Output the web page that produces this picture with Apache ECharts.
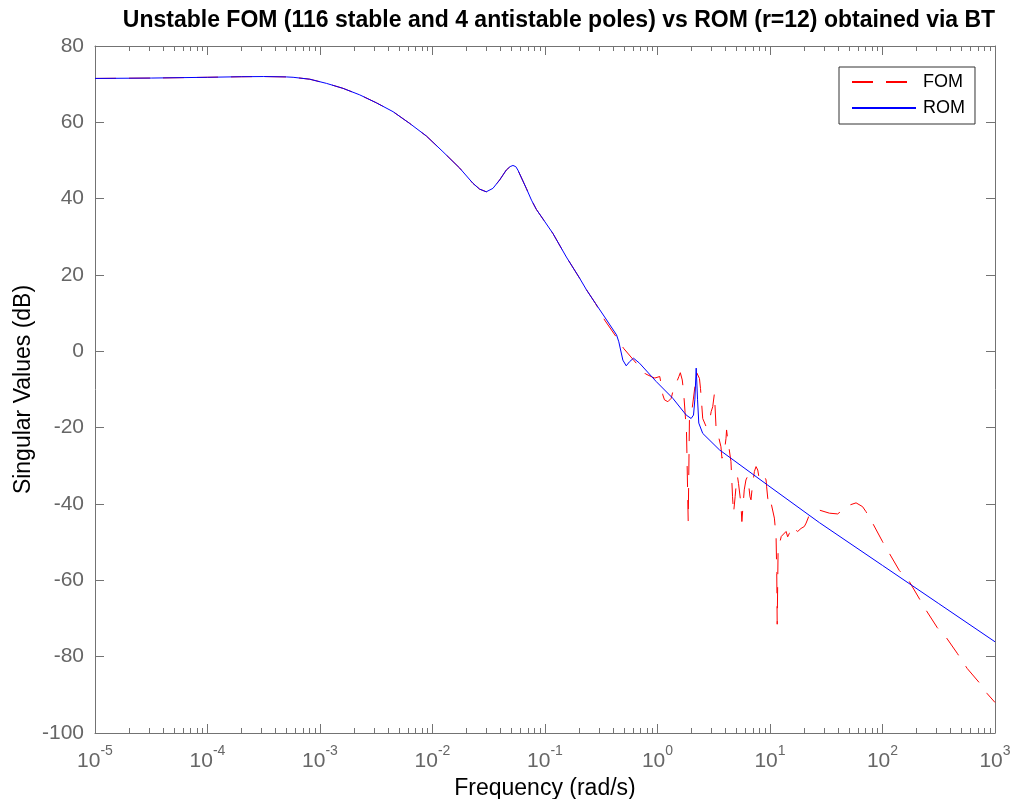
<!DOCTYPE html>
<html>
<head>
<meta charset="utf-8">
<script src="https://cdn.jsdelivr.net/npm/echarts@6/dist/echarts.min.js"></script>
<style>
html,body{margin:0;padding:0;background:#fff;}
#chart{width:1015px;height:799px;}
</style>
</head>
<body>
<div id="chart"></div>
<script>
// ---- data (frequency given as log10 of rad/s, values in dB) ----
const titleText = 'Unstable FOM (116 stable and 4 antistable poles) vs ROM (r=12) obtained via BT';
const xName = 'Frequency (rad/s)';
const yName = 'Singular Values (dB)';
const seriesNames = ['FOM', 'ROM'];
const yTicks = [-100, -80, -60, -40, -20, 0, 20, 40, 60, 80];
const xDecades = [-5, -4, -3, -2, -1, 0, 1, 2, 3];

// part common to both models
const sharedLogW = [-5, -4.5, -4, -3.7, -3.5, -3.3, -3.239, -3.091, -2.942, -2.795, -2.647, -2.498, -2.351, -2.202, -2.054, -1.907, -1.758, -1.64, -1.581, -1.522, -1.463, -1.403, -1.344, -1.31, -1.285, -1.26, -1.241, -1.166, -1.12, -1.077, -1.0, -0.93, -0.81, -0.693, -0.631, -0.55];
const sharedDb = [71.5, 71.6, 71.8, 71.95, 72.0, 71.9, 71.8, 71.3, 70.2, 68.9, 67.2, 65.1, 62.8, 59.7, 56.4, 52.3, 48.0, 44.0, 42.5, 41.8, 42.7, 44.9, 47.5, 48.4, 48.7, 48.4, 47.5, 42.7, 39.6, 37.2, 33.9, 30.9, 24.7, 19.2, 16.1, 12.5];

// ROM continuation
const romLogW = [-0.47, -0.364, -0.344, -0.308, -0.278, -0.248, -0.213, -0.16, -0.012, 0.136, 0.255, 0.299, 0.32, 0.332, 0.344, 0.356, 0.367, 0.402, 0.55, 1.0, 1.44, 2.0, 2.5, 3.0];
const romDb = [9.0, 4.3, 2.5, -2.3, -3.8, -2.7, -1.8, -3.1, -7.9, -12.3, -16.7, -17.6, -16.7, -12.7, -4.4, -12.7, -18.8, -21.5, -25.8, -35.5, -44.9, -56.1, -66.1, -76.1];

// FOM continuation
const fomLogW = [-0.47, -0.367, -0.302, -0.189, -0.107, -0.042, -0.024, 0.02, 0.028, 0.047, 0.062, 0.092, 0.122, 0.136, 0.19, 0.203, 0.22, 0.232, 0.245, 0.258, 0.273, 0.284, 0.308, 0.338, 0.35, 0.358, 0.373, 0.382, 0.388, 0.402, 0.432, 0.462, 0.477, 0.491, 0.506, 0.52, 0.543, 0.564, 0.573, 0.594, 0.609, 0.614, 0.623, 0.638, 0.653, 0.667, 0.676, 0.69, 0.702, 0.711, 0.72, 0.741, 0.75, 0.771, 0.786, 0.8, 0.809, 0.822, 0.831, 0.84, 0.846, 0.861, 0.876, 0.891, 0.906, 0.921, 0.935, 0.95, 0.965, 0.97, 0.98, 0.995, 1.01, 1.024, 1.039, 1.054, 1.06, 1.064, 1.072, 1.1, 1.143, 1.157, 1.172, 1.187, 1.202, 1.246, 1.276, 1.305, 1.321, 1.344, 1.439, 1.528, 1.601, 1.705, 1.765, 1.823, 1.853, 1.912, 2.001, 2.149, 2.238, 2.389, 2.487, 2.567, 2.664, 2.753, 2.86, 2.931, 3.0];
const fomDb = [8.2, 3.8, 0.8, -3.1, -5.9, -6.8, -7.0, -6.6, -7.9, -11.4, -12.7, -13.2, -12.3, -10.6, -6.6, -5.6, -7.5, -10.6, -16.0, -21.4, -44.6, -17.6, -15.0, -8.0, -5.7, -6.2, -7.1, -9.7, -11.9, -17.6, -19.7, -18.4, -15.8, -14.5, -11.0, -19.7, -22.4, -25.0, -28.0, -26.3, -22.8, -20.6, -22.8, -25.8, -28.9, -38.1, -42.4, -38.1, -34.1, -32.8, -34.6, -39.8, -44.6, -36.3, -33.7, -32.8, -34.6, -38.1, -38.9, -36.3, -35.0, -31.5, -30.2, -31.1, -33.7, -34.1, -33.3, -32.7, -33.7, -35.5, -38.5, -40.7, -39.8, -40.3, -43.7, -48.6, -58.2, -71.5, -52.0, -48.5, -47.2, -48.6, -47.7, -45.9, -45.5, -47.2, -46.4, -45.9, -45.0, -43.3, -41.6, -42.4, -42.6, -40.3, -39.7, -40.7, -42.0, -45.0, -49.9, -57.4, -60.3, -67.9, -72.4, -75.0, -79.1, -83.1, -86.8, -89.7, -92.0];

// ---- build ----
function pairs(lw, db) { return lw.map((l, i) => [Math.pow(10, l), db[i]]); }
const sharedPts = pairs(sharedLogW, sharedDb);
const fomData = sharedPts.concat(pairs(fomLogW, fomDb));
const romData = sharedPts.concat(pairs(romLogW, romDb));

const minorTicks = [];
for (let k = xDecades[0]; k < xDecades[xDecades.length - 1]; k++) {
  for (let m = 2; m <= 9; m++) minorTicks.push([m * Math.pow(10, k), 0]);
}

const axisColor = '#737373';
const labelColor = '#666666';
const FONT = 'Liberation Sans, Arial, Helvetica, sans-serif';

function supLabel(v) {
  const e = Math.round(Math.log10(v));
  return '{b|10}{s|' + e + '}';
}

const chart = echarts.init(document.getElementById('chart'), null, {renderer: 'canvas'});
chart.setOption({
  animation: false,
  backgroundColor: '#ffffff',
  title: {
    text: titleText,
    left: 554,
    textAlign: 'center',
    top: 4,
    textStyle: {fontFamily: FONT, fontSize: 23, fontWeight: 'bold', color: '#000'}
  },
  grid: {left: 95, right: 20, top: 46, bottom: 66, containLabel: false, outerBoundsMode: 'none'},
  legend: {
    data: seriesNames,
    orient: 'vertical',
    left: 839,
    top: 67,
    padding: [6, 10, 7, 12],
    itemWidth: 64,
    itemHeight: 14,
    itemGap: 8,
    borderColor: '#333',
    borderWidth: 1,
    backgroundColor: '#fff',
    itemStyle: {color: 'rgba(0,0,0,0)', borderWidth: 0, opacity: 0},
    textStyle: {fontFamily: FONT, fontSize: 18, color: '#000', padding: [0, 0, 0, 2]}
  },
  xAxis: [{
    type: 'log', logBase: 10, min: 1e-5, max: 1e3, interval: 1,
    position: 'bottom',
    name: xName, nameLocation: 'middle', nameGap: 34,
    nameTextStyle: {fontFamily: FONT, fontSize: 23, color: '#000'},
    axisLine: {show: true, onZero: false, lineStyle: {color: axisColor, width: 1}},
    axisTick: {show: true, inside: true, length: 9, lineStyle: {color: axisColor}},
    axisLabel: {
      margin: 11, formatter: supLabel,
      rich: {
        b: {fontFamily: FONT, fontSize: 21, color: labelColor, lineHeight: 28, verticalAlign: 'bottom'},
        s: {fontFamily: FONT, fontSize: 14, color: labelColor, lineHeight: 28, verticalAlign: 'top'}
      }
    },
    splitLine: {show: false}, minorTick: {show: false}
  }, {
    type: 'log', logBase: 10, min: 1e-5, max: 1e3, interval: 1,
    position: 'top',
    axisLine: {show: true, onZero: false, lineStyle: {color: axisColor, width: 1}},
    axisTick: {show: true, inside: true, length: 9, lineStyle: {color: axisColor}},
    axisLabel: {show: false}, splitLine: {show: false}
  }],
  yAxis: [{
    type: 'value', min: yTicks[0], max: yTicks[yTicks.length - 1], interval: 20,
    position: 'left',
    name: yName, nameLocation: 'middle', nameGap: 60, nameMoveOverlap: false,
    nameTextStyle: {fontFamily: FONT, fontSize: 23, color: '#000'},
    axisLine: {show: true, onZero: false, lineStyle: {color: axisColor, width: 1}},
    axisTick: {show: true, inside: true, length: 9, lineStyle: {color: axisColor}},
    axisLabel: {margin: 11, fontFamily: FONT, fontSize: 21, color: labelColor},
    splitLine: {show: false}
  }, {
    type: 'value', min: yTicks[0], max: yTicks[yTicks.length - 1], interval: 20,
    position: 'right',
    axisLine: {show: true, onZero: false, lineStyle: {color: axisColor, width: 1}},
    axisTick: {show: true, inside: true, length: 9, lineStyle: {color: axisColor}},
    axisLabel: {show: false}, splitLine: {show: false}
  }],
  series: [{
    name: 'minor', type: 'custom', xAxisIndex: 0, yAxisIndex: 0,
    silent: true, clip: false, z: 1,
    data: minorTicks,
    renderItem: function (params, api) {
      const f = api.value(0);
      const pb = api.coord([f, yTicks[0]]);
      const pt = api.coord([f, yTicks[yTicks.length - 1]]);
      const st = {stroke: axisColor, lineWidth: 1};
      return {
        type: 'group',
        children: [
          {type: 'line', shape: {x1: Math.round(pb[0]) + 0.5, y1: pb[1], x2: Math.round(pb[0]) + 0.5, y2: pb[1] - 5}, style: st},
          {type: 'line', shape: {x1: Math.round(pt[0]) + 0.5, y1: pt[1], x2: Math.round(pt[0]) + 0.5, y2: pt[1] + 5}, style: st}
        ]
      };
    }
  }, {
    name: seriesNames[0], type: 'line', data: fomData,
    symbol: 'none', showSymbol: false, z: 2,
    lineStyle: {color: '#ff0000', width: 1, type: [21, 13]},
    itemStyle: {color: '#ff0000'}
  }, {
    name: seriesNames[1], type: 'line', data: romData,
    symbol: 'none', showSymbol: false, z: 3,
    lineStyle: {color: '#0000ff', width: 1, type: 'solid'},
    itemStyle: {color: '#0000ff'}
  }]
});
</script>
</body>
</html>
